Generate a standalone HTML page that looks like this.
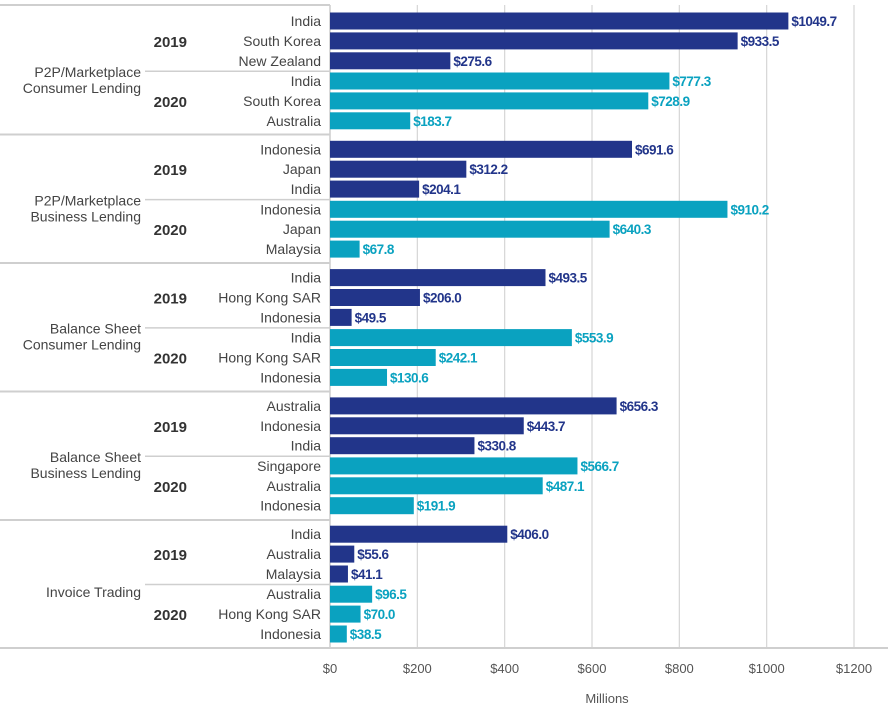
<!DOCTYPE html>
<html><head><meta charset="utf-8"><style>
body{margin:0;background:#fff;width:893px;height:712px;overflow:hidden;font-family:"Liberation Sans",sans-serif}
</style></head><body>
<svg id="c" width="893" height="712" xmlns="http://www.w3.org/2000/svg"></svg>
<script>
const categories=["P2P/Marketplace|Consumer Lending","P2P/Marketplace|Business Lending","Balance Sheet|Consumer Lending","Balance Sheet|Business Lending","Invoice Trading"];
const countries2019=[["India","South Korea","New Zealand"],["Indonesia","Japan","India"],["India","Hong Kong SAR","Indonesia"],["Australia","Indonesia","India"],["India","Australia","Malaysia"]];
const values2019=[[1049.7,933.5,275.6],[691.6,312.2,204.1],[493.5,206.0,49.5],[656.3,443.7,330.8],[406.0,55.6,41.1]];
const countries2020=[["India","South Korea","Australia"],["Indonesia","Japan","Malaysia"],["India","Hong Kong SAR","Indonesia"],["Singapore","Australia","Indonesia"],["Australia","Hong Kong SAR","Indonesia"]];
const values2020=[[777.3,728.9,183.7],[910.2,640.3,67.8],[553.9,242.1,130.6],[566.7,487.1,191.9],[96.5,70.0,38.5]];
const ticks=[0,200,400,600,800,1000,1200];
const NS="http://www.w3.org/2000/svg",svg=document.getElementById('c');
const x=v=>330+v*524/1200;
const yc=(k,yr,i)=>21+k*128.3+yr*60+i*19.9;
function el(t,a,txt){const e=document.createElementNS(NS,t);for(const k in a)e.setAttribute(k,a[k]);if(txt!==undefined)e.textContent=txt;svg.appendChild(e);return e;}
ticks.forEach(t=>{const g=el('line',{x1:x(t),x2:x(t),y1:5,y2:648,stroke:'#d6d6d6','stroke-width':1.2});


const l=el('text',{x:x(t),y:673,'text-anchor':'middle','font-size':13,fill:'#555'},'$'+t);

});
el('line',{x1:0,x2:330,y1:5,y2:5,stroke:'#cfcfcf','stroke-width':2});
el('line',{x1:330,x2:330,y1:5,y2:648,stroke:'#cfcfcf','stroke-width':1.5});
el('line',{x1:0,x2:888,y1:648,y2:648,stroke:'#cfcfcf','stroke-width':2});
const xt=el('text',{x:607,y:703,'text-anchor':'middle','font-size':13,fill:'#555'},'Millions');


categories.forEach((c,k)=>{
 const top=5+k*128.5;
 if(k>0){const s=el('line',{x1:0,x2:330,y1:top+1,y2:top+1,stroke:'#cfcfcf','stroke-width':2});}
 el('line',{x1:145,x2:330,y1:yc(k,0,2)+10.5,y2:yc(k,0,2)+10.5,stroke:'#cfcfcf','stroke-width':1.5});
 const parts=c.split('|');const mid=yc(k,1,0)-10;
 parts.forEach((p,j)=>{const t=el('text',{x:141,y:mid+(parts.length==1?13:j*16+6),'text-anchor':'end','font-size':14,fill:'#444'},p);
 
 });
 [[countries2019,values2019,'#22358a'],[countries2020,values2020,'#0aa2c0']].forEach(([cs,vs,col],yr)=>{
  const yl=el('text',{x:187,y:yc(k,yr,1)+6,'text-anchor':'end','font-size':15,'font-weight':'bold',fill:'#333'},yr?'2020':'2019');
  
  
  vs[k].forEach((v,i)=>{const y=yc(k,yr,i);
   const cl=el('text',{x:321,y:y+5,'text-anchor':'end','font-size':14,fill:'#444'},cs[k][i]);
   
   
   const b=el('rect',{x:x(0),y:y-8.5,width:x(v)-x(0),height:17,fill:col});
   
   
   const vl=el('text',{x:x(v)+3,y:y+5,'font-size':13.5,'font-weight':'bold',fill:col,'letter-spacing':'-0.5'},'$'+v.toFixed(1));
   
   
  });
 });
});
</script>
</body></html>
